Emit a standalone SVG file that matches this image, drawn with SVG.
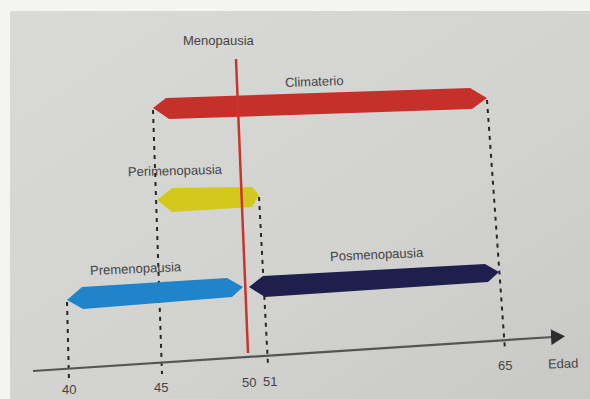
<svg xmlns="http://www.w3.org/2000/svg" width="590" height="399" viewBox="0 0 590 399">
<style>
.lbl{font-family:"Liberation Sans",Arial,sans-serif;font-size:13px;fill:#444}
.dash{fill:none;stroke:#262626;stroke-width:2;stroke-dasharray:4 5}
</style>
<defs>
<linearGradient id="bg" x1="0" y1="0" x2="1" y2="1">
<stop offset="0" stop-color="#d9d9d7"/>
<stop offset="0.6" stop-color="#d2d2d0"/>
<stop offset="1" stop-color="#c8c8c6"/>
</linearGradient>
<marker id="ah" viewBox="0 0 14 16" refX="2" refY="8" markerWidth="14" markerHeight="16" markerUnits="userSpaceOnUse" orient="auto">
<path d="M0,0 L14,8 L0,16 Z" fill="#2e2e2e"/>
</marker>
</defs>
<rect width="590" height="399" fill="#f4f4f2"/>
<rect x="10" y="11" width="580" height="388" fill="url(#bg)"/>
<g id="connectors">
<path class="dash" d="M67,302 L69,380"/>
<path class="dash" d="M153,110 L162,374"/>
<path class="dash" d="M259,197 L268,365"/>
<path class="dash" d="M487,100 L505,350"/>
</g>
<g id="axis">
<path d="M33,371 L553,337" stroke="#555" stroke-width="2.2" fill="none" marker-end="url(#ah)"/>
<text class="lbl" x="548" y="368" transform="rotate(-2 565 364)">Edad</text>
<text class="lbl" x="62" y="394">40</text>
<text class="lbl" x="154" y="392">45</text>
<text class="lbl" x="242" y="387">50</text>
<text class="lbl" x="263" y="386">51</text>
<text class="lbl" x="498" y="370">65</text>
</g>
<g id="climaterio">
<polygon points="153,108 166,98 470,88 487,98 472,109 169,119" fill="#c5312a"/>
<text class="lbl" x="285" y="86" transform="rotate(-2 313 82)">Climaterio</text>
</g>
<g id="perimenopausia">
<polygon points="157,200 172,188 252,187 259,195 252,207 172,212" fill="#d3c91c"/>
<text class="lbl" x="128" y="175" transform="rotate(-1.5 177 171)">Perimenopausia</text>
</g>
<g id="premenopausia">
<polygon points="67,300 82,287 227,278 243,287 232,297 83,309" fill="#1f84c9"/>
<text class="lbl" x="90" y="273" transform="rotate(-2.5 138 268)">Premenopausia</text>
</g>
<g id="posmenopausia">
<polygon points="249,287 263,276 485,264 499,272 488,282 265,297" fill="#1f1f4d"/>
<text class="lbl" x="330" y="259" transform="rotate(-2.5 376 254)">Posmenopausia</text>
</g>
<g id="menopausia">
<path d="M236,59 L248,353" stroke="#c9352a" stroke-width="2.5" fill="none"/>
<text class="lbl" x="183" y="45">Menopausia</text>
</g>
</svg>
